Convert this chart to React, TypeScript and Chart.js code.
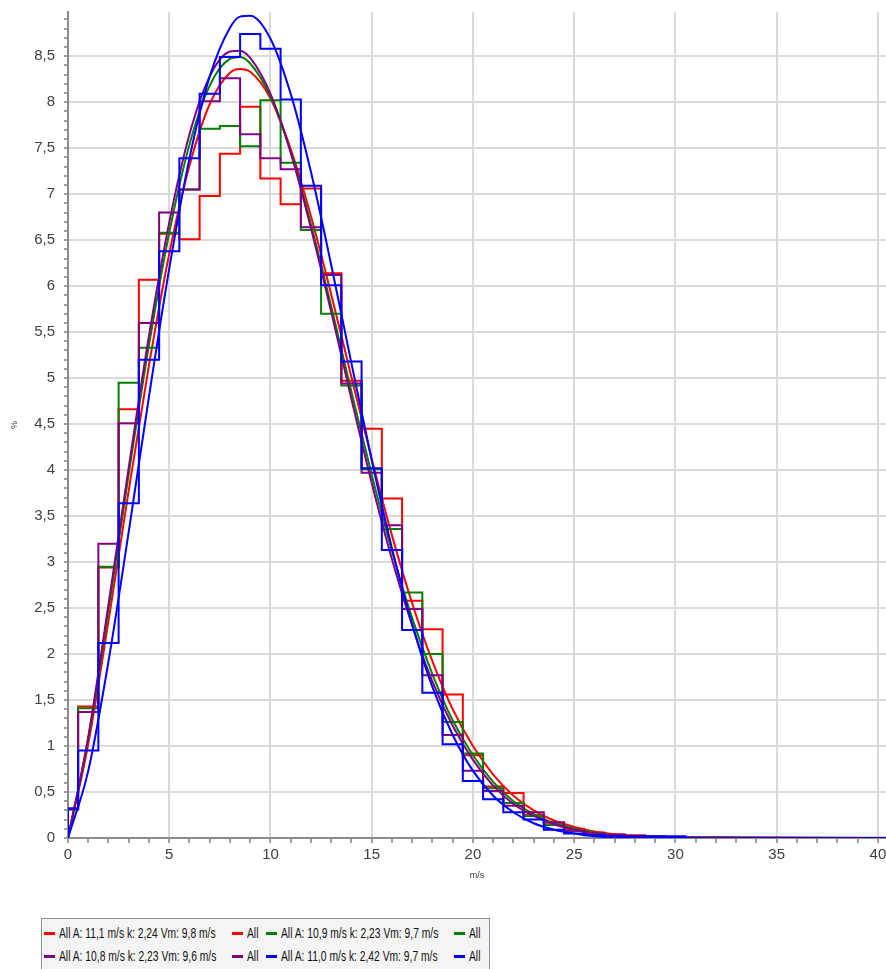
import React, { useEffect, useRef } from 'react';
import { Chart, registerables } from 'chart.js';

Chart.register(...registerables);

// Fitted Weibull curves, x in m/s, y in %
const speeds = [0, 1, 2, 3, 4, 5, 6, 7, 8, 8.5, 9, 10, 11, 12, 13, 14, 15, 16, 17, 18, 19, 20, 21, 22, 23, 24, 25, 26, 27, 28, 29, 30, 42];
const redFit = [0, 1.02, 2.36, 3.78, 5.14, 6.35, 7.31, 7.98, 8.32, 8.36, 8.33, 8.04, 7.49, 6.76, 5.91, 5.01, 4.12, 3.29, 2.55, 1.92, 1.40, 1.00, 0.69, 0.46, 0.30, 0.19, 0.12, 0.07, 0.04, 0.02, 0.01, 0.01, 0];
const greenFit = [0, 1.08, 2.48, 3.96, 5.36, 6.58, 7.54, 8.18, 8.47, 8.49, 8.42, 8.06, 7.46, 6.67, 5.78, 4.85, 3.95, 3.12, 2.39, 1.78, 1.28, 0.90, 0.61, 0.40, 0.26, 0.16, 0.10, 0.06, 0.03, 0.02, 0.01, 0.005, 0];
const purpleFit = [0, 1.10, 2.54, 4.03, 5.46, 6.69, 7.65, 8.28, 8.55, 8.56, 8.48, 8.09, 7.45, 6.63, 5.72, 4.77, 3.86, 3.03, 2.31, 1.70, 1.22, 0.85, 0.57, 0.37, 0.24, 0.15, 0.09, 0.05, 0.03, 0.02, 0.01, 0.004, 0];
const blueFit = [0, 0.73, 1.92, 3.33, 4.80, 6.19, 7.39, 8.28, 8.81, 8.93, 8.94, 8.69, 8.09, 7.24, 6.23, 5.16, 4.11, 3.15, 2.32, 1.64, 1.12, 0.73, 0.46, 0.28, 0.16, 0.09, 0.05, 0.02, 0.01, 0.005, 0.002, 0.001, 0];

// Histograms: 1 m/s bins centred on 0, 1, 2, ... 30 (first bin is 0..0.5)
const redHist = [0.31, 1.43, 2.94, 4.66, 6.07, 6.57, 6.51, 6.98, 7.44, 7.95, 7.17, 6.89, 7.06, 6.14, 4.97, 4.45, 3.69, 2.58, 2.27, 1.56, 0.90, 0.56, 0.49, 0.25, 0.15, 0.10, 0.06, 0.04, 0.03, 0.02, 0.01];
const greenHist = [0.31, 1.41, 2.95, 4.95, 5.33, 6.58, 7.05, 7.71, 7.74, 7.52, 8.02, 7.34, 6.61, 5.70, 4.92, 4.01, 3.36, 2.67, 2.00, 1.26, 0.92, 0.54, 0.38, 0.24, 0.14, 0.08, 0.05, 0.03, 0.02, 0.01, 0.005];
const purpleHist = [0.32, 1.37, 3.20, 4.51, 5.60, 6.80, 7.05, 8.01, 8.26, 7.65, 7.39, 7.27, 6.64, 6.12, 4.94, 3.97, 3.40, 2.49, 1.77, 1.12, 0.73, 0.51, 0.35, 0.28, 0.17, 0.08, 0.05, 0.03, 0.02, 0.01, 0.005];
const blueHist = [0.32, 0.95, 2.12, 3.64, 5.20, 6.38, 7.39, 8.09, 8.49, 8.74, 8.58, 8.03, 7.09, 6.01, 5.18, 4.02, 3.13, 2.26, 1.58, 1.02, 0.62, 0.42, 0.28, 0.20, 0.09, 0.05, 0.03, 0.02, 0.02, 0.02, 0.02];

const fitLabels = [
  'All A: 11,1 m/s k: 2,24 Vm: 9,8 m/s',
  'All A: 10,9 m/s k: 2,23 Vm: 9,7 m/s',
  'All A: 10,8 m/s k: 2,23 Vm: 9,6 m/s',
  'All A: 11,0 m/s k: 2,42 Vm: 9,7 m/s',
];
const histLabel = 'All';
const seriesColors = ['#ff0000', '#008000', '#800080', '#0000ff'];

const FONT = '"Liberation Sans", Arial, sans-serif';

function histPoints(values: number[]) {
  const pts: { x: number; y: number }[] = [{ x: 0, y: 0 }];
  values.forEach((v, i) => pts.push({ x: Math.max(0, i - 0.5), y: v }));
  pts.push({ x: values.length - 0.5, y: values[values.length - 1] });
  pts.push({ x: values.length - 0.5, y: 0 });
  return pts;
}

function fitPoints(values: number[]) {
  return speeds.map((s, i) => ({ x: s, y: values[i] }));
}

export default function App() {
  const canvasRef = useRef<HTMLCanvasElement | null>(null);

  useEffect(() => {
    const canvas = canvasRef.current;
    if (!canvas) return;
    const fits = [redFit, greenFit, purpleFit, blueFit];
    const hists = [redHist, greenHist, purpleHist, blueHist];
    const datasets: any[] = [];
    fits.forEach((f, i) => {
      datasets.push({
        label: fitLabels[i],
        data: fitPoints(f),
        borderColor: seriesColors[i],
        borderWidth: 2,
        pointRadius: 0,
        fill: false,
        cubicInterpolationMode: 'monotone',
        order: 6 - i * 2,
      });
      datasets.push({
        label: histLabel,
        data: histPoints(hists[i]),
        borderColor: seriesColors[i],
        borderWidth: 2,
        pointRadius: 0,
        fill: false,
        stepped: true,
        order: 7 - i * 2,
      });
    });

    const isMajorY = (v: number) => Math.round(v * 10) % 5 === 0;
    const isMajorX = (v: number) => Math.round(v) % 5 === 0;

    const chart = new Chart(canvas, {
      type: 'line',
      data: { datasets },
      options: {
        animation: false,
        responsive: false,
        maintainAspectRatio: false,
        devicePixelRatio: 1,
        layout: { padding: { top: 12, left: 0, right: 0, bottom: 0 } },
        plugins: { legend: { display: false }, tooltip: { enabled: false } },
        scales: {
          x: {
            type: 'linear',
            min: 0,
            max: 40.4,
            ticks: {
              stepSize: 1,
              autoSkip: false,
              includeBounds: false,
              maxRotation: 0,
              color: '#404040',
              padding: 3,
              font: { family: FONT, size: 15 },
              callback: (v: any) => (isMajorX(Number(v)) ? String(Math.round(Number(v))) : ''),
            },
            grid: {
              color: (ctx: any) => (ctx.tick && isMajorX(ctx.tick.value) ? '#dadada' : 'rgba(0,0,0,0)'),
              lineWidth: 2,
              tickColor: '#a0a0a0',
              tickLength: 5,
            },
            border: { color: '#8c8c8c', width: 2 },
            title: { display: true, text: 'm/s', color: '#333', font: { family: FONT, size: 9 }, padding: { top: 0, bottom: 4 } },
            afterFit: (s: any) => {
              s.height = 47;
              s.paddingLeft = 0;
              s.paddingRight = 0;
            },
          },
          y: {
            type: 'linear',
            min: 0,
            max: 8.98,
            ticks: {
              stepSize: 0.1,
              autoSkip: false,
              includeBounds: false,
              color: '#404040',
              padding: 9,
              font: { family: FONT, size: 15 },
              callback: (v: any) => {
                const n = Number(v);
                return isMajorY(n) ? String(Math.round(n * 10) / 10).replace('.', ',') : '';
              },
            },
            grid: {
              color: (ctx: any) => (ctx.tick && isMajorY(ctx.tick.value) ? '#dadada' : 'rgba(0,0,0,0)'),
              lineWidth: 2,
              tickColor: '#a0a0a0',
              tickLength: 4,
            },
            border: { color: '#8c8c8c', width: 2 },
            title: { display: true, text: '%', color: '#333', font: { family: FONT, size: 9 }, padding: { top: 9, bottom: 0 } },
            afterFit: (s: any) => {
              s.width = 68;
              s.paddingTop = 0;
              s.paddingBottom = 0;
            },
          },
        },
      } as any,
    });
    return () => chart.destroy();
  }, []);

  const legendRows = [
    [0, 1],
    [2, 3],
  ];
  const colLefts = [2, 190, 224, 412];
  const rowCenters = [14, 37];

  const items: any[] = [];
  legendRows.forEach((pair, r) => {
    pair.forEach((si, p) => {
      const fitCol = p * 2;
      const histCol = p * 2 + 1;
      [
        { col: fitCol, text: fitLabels[si] },
        { col: histCol, text: histLabel },
      ].forEach((it, k) => {
        items.push(
          <div
            key={`${r}-${p}-${k}`}
            style={{
              position: 'absolute',
              left: colLefts[it.col],
              top: rowCenters[r] - 10,
              height: 20,
              display: 'flex',
              alignItems: 'center',
              whiteSpace: 'nowrap',
            }}
          >
            <div style={{ width: 11, height: 3, background: seriesColors[si], marginRight: 4 }} />
            <span
              style={{
                display: 'inline-block',
                fontFamily: FONT,
                fontSize: 14.5,
                color: '#111',
                transform: 'scaleX(0.71)',
                transformOrigin: 'left center',
              }}
            >
              {it.text}
            </span>
          </div>
        );
      });
    });
  });

  return (
    <div
      style={{
        position: 'absolute',
        left: 0,
        top: 0,
        width: 886,
        height: 969,
        overflow: 'hidden',
        background: '#ffffff',
      }}
    >
      <canvas
        ref={canvasRef}
        width={886}
        height={885}
        style={{ position: 'absolute', left: 0, top: 0, width: 886, height: 885 }}
      />
      <div
        style={{
          position: 'absolute',
          left: 41,
          top: 918,
          width: 449,
          height: 70,
          border: '1px solid #8f8f8f',
          background: '#f4f4f4',
          boxSizing: 'border-box',
        }}
      >
        {items}
      </div>
    </div>
  );
}
